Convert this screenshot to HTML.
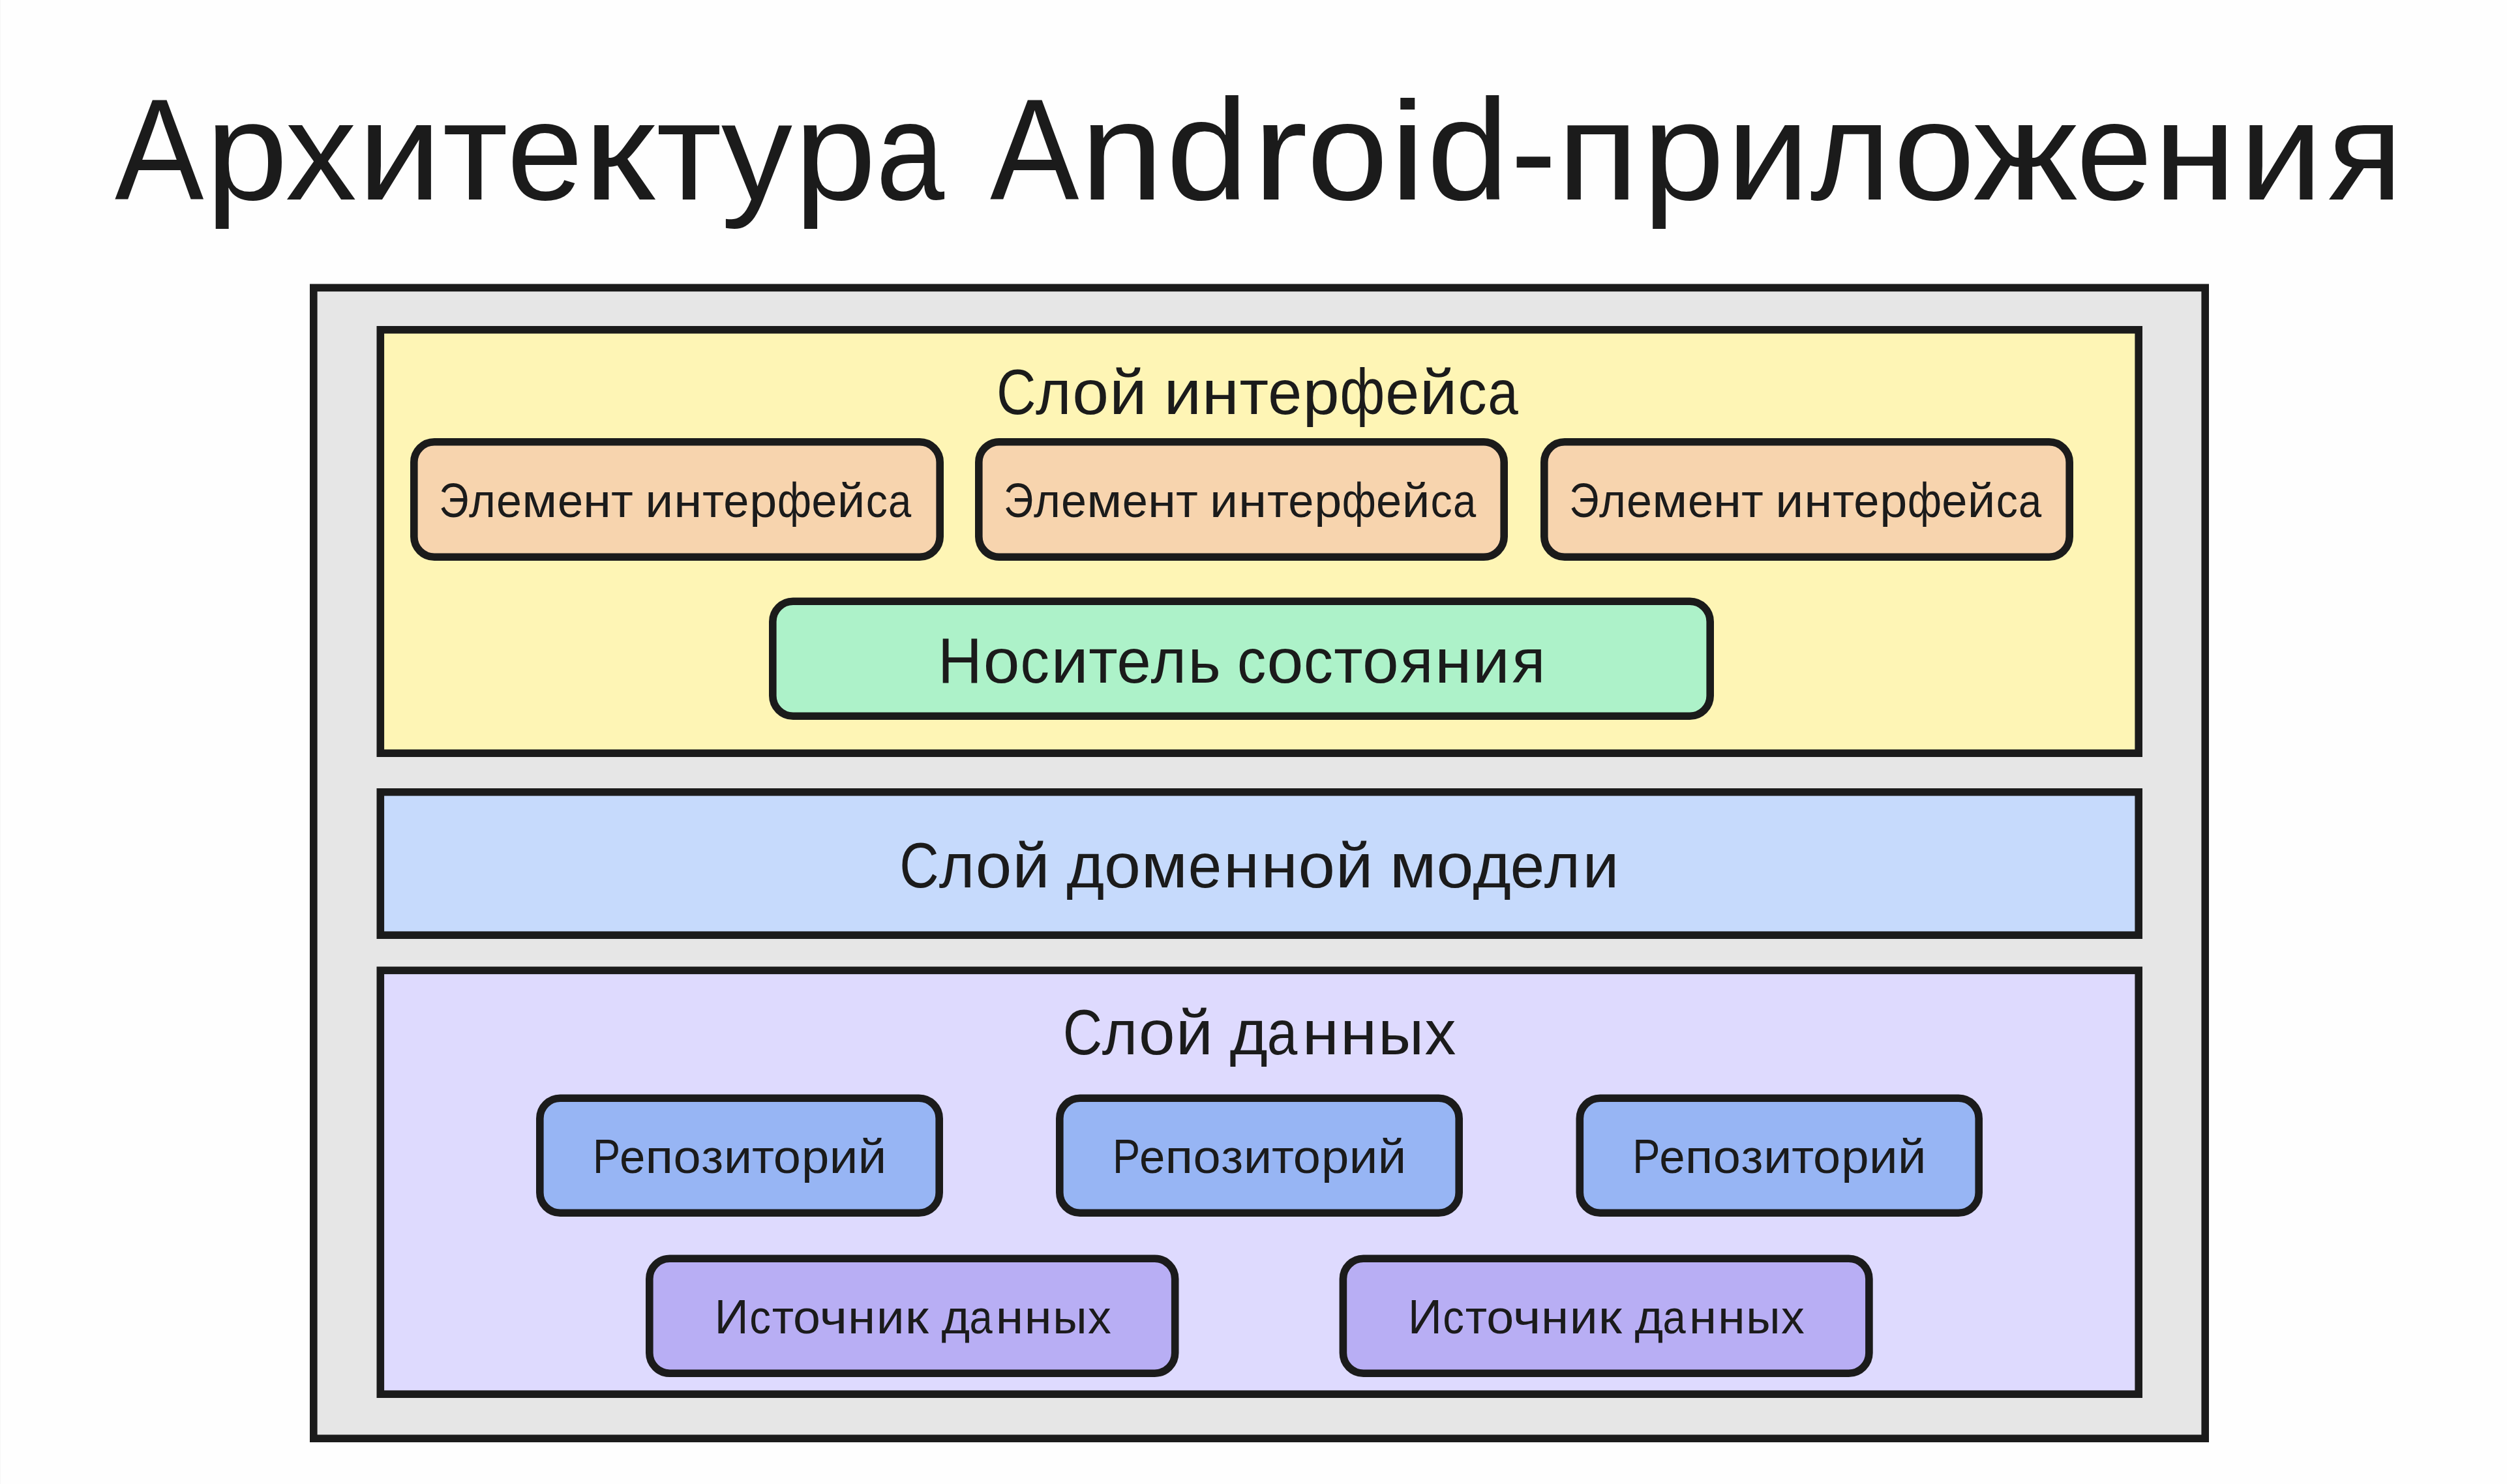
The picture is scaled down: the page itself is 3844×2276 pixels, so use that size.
<!DOCTYPE html>
<html><head><meta charset="utf-8"><style>
html,body{margin:0;padding:0;background:#fefefe;overflow:hidden;}
svg{display:block;}
text{font-family:"Liberation Sans",sans-serif;fill:#1b1b1b;}
</style></head><body>
<svg width="3844" height="2276" viewBox="0 0 3844 2276">
<rect x="0" y="0" width="3844" height="2276" fill="#fefefe"/>
<rect x="0" y="0" width="1" height="2276" fill="#f6f6f6"/>
<rect x="480.80" y="441.30" width="2900.40" height="1764.90" fill="#e6e6e6" stroke="#1b1b1b" stroke-width="11.6"/>
<rect x="583.30" y="505.80" width="2695.90" height="649.40" fill="#fef5b5" stroke="#1b1b1b" stroke-width="11.6"/>
<rect x="583.30" y="1214.80" width="2695.90" height="219.40" fill="#c6dafc" stroke="#1b1b1b" stroke-width="11.6"/>
<rect x="583.30" y="1488.30" width="2695.90" height="649.90" fill="#dedafe" stroke="#1b1b1b" stroke-width="11.6"/>
<rect x="634.80" y="677.80" width="806.40" height="176.40" rx="31.20" fill="#f7d4ae" stroke="#1b1b1b" stroke-width="11.6"/>
<rect x="1500.80" y="677.80" width="805.40" height="176.40" rx="31.20" fill="#f7d4ae" stroke="#1b1b1b" stroke-width="11.6"/>
<rect x="2367.80" y="677.80" width="805.40" height="176.40" rx="31.20" fill="#f7d4ae" stroke="#1b1b1b" stroke-width="11.6"/>
<rect x="1184.80" y="922.30" width="1437.40" height="175.90" rx="31.20" fill="#adf2c9" stroke="#1b1b1b" stroke-width="11.6"/>
<rect x="827.80" y="1684.20" width="612.40" height="176.00" rx="31.20" fill="#97b5f4" stroke="#1b1b1b" stroke-width="11.6"/>
<rect x="1624.80" y="1684.20" width="612.40" height="176.00" rx="31.20" fill="#97b5f4" stroke="#1b1b1b" stroke-width="11.6"/>
<rect x="2422.30" y="1684.20" width="611.90" height="176.00" rx="31.20" fill="#97b5f4" stroke="#1b1b1b" stroke-width="11.6"/>
<rect x="995.80" y="1930.20" width="805.90" height="176.00" rx="31.20" fill="#b8aef4" stroke="#1b1b1b" stroke-width="11.6"/>
<rect x="2059.40" y="1930.20" width="806.50" height="176.00" rx="31.20" fill="#b8aef4" stroke="#1b1b1b" stroke-width="11.6"/>
<text transform="translate(175.90,305.9) scale(0.9227,1.0000)" font-size="221.8">А</text>
<text transform="translate(315.60,305.9) scale(1.0216,0.9735)" font-size="221.8">р</text>
<text transform="translate(437.54,305.9) scale(0.9865,0.9735)" font-size="221.8">х</text>
<text transform="translate(548.57,305.9) scale(1.0361,0.9735)" font-size="221.8">и</text>
<text transform="translate(678.56,305.9) scale(0.9872,0.9735)" font-size="221.8">т</text>
<text transform="translate(777.21,305.9) scale(0.9435,0.9735)" font-size="221.8">е</text>
<text transform="translate(894.45,305.9) scale(1.1277,0.9735)" font-size="221.8">к</text>
<text transform="translate(1006.15,305.9) scale(0.9882,0.9735)" font-size="221.8">т</text>
<text transform="translate(1105.87,305.9) scale(0.9843,0.9735)" font-size="221.8">у</text>
<text transform="translate(1218.07,305.9) scale(1.0166,0.9735)" font-size="221.8">р</text>
<text transform="translate(1343.32,305.9) scale(0.8500,0.9735)" font-size="221.8">а</text>
<text transform="translate(1517.90,305.9) scale(0.9227,1.0000)" font-size="221.8">A</text>
<text transform="translate(1656.85,305.9) scale(1.0284,0.9735)" font-size="221.8">n</text>
<text transform="translate(1788.30,305.9) scale(1.0196,1.0000)" font-size="221.8">d</text>
<text transform="translate(1920.23,305.9) scale(1.1500,0.9735)" font-size="221.8">r</text>
<text transform="translate(2003.79,305.9) scale(1.0102,0.9735)" font-size="221.8">o</text>
<text transform="translate(2130.56,305.9) scale(1.1285,0.9735)" font-size="221.8">i</text>
<text transform="translate(2187.80,305.9) scale(1.0196,1.0000)" font-size="221.8">d</text>
<text transform="translate(2316.23,305.9) scale(0.9511,0.9735)" font-size="221.8">-</text>
<text transform="translate(2387.58,305.9) scale(1.0420,0.9735)" font-size="221.8">п</text>
<text transform="translate(2518.90,305.9) scale(1.0146,0.9735)" font-size="221.8">р</text>
<text transform="translate(2647.30,305.9) scale(1.0275,0.9735)" font-size="221.8">и</text>
<text transform="translate(2775.87,305.9) scale(0.9482,0.9735)" font-size="221.8">л</text>
<text transform="translate(2903.27,305.9) scale(1.0122,0.9735)" font-size="221.8">о</text>
<text transform="translate(3025.99,305.9) scale(1.0745,0.9735)" font-size="221.8">ж</text>
<text transform="translate(3183.82,305.9) scale(0.9426,0.9735)" font-size="221.8">е</text>
<text transform="translate(3302.21,305.9) scale(1.0335,0.9735)" font-size="221.8">н</text>
<text transform="translate(3433.40,305.9) scale(1.0339,0.9735)" font-size="221.8">и</text>
<text transform="translate(3569.25,305.9) scale(0.9515,0.9735)" font-size="221.8">я</text>
<text transform="translate(1527.90,634.8) scale(0.8500,1.0000)" font-size="98.4">С</text>
<text transform="translate(1587.90,634.8) scale(0.9488,0.9800)" font-size="98.4">л</text>
<text transform="translate(1644.28,634.8) scale(1.0202,0.9800)" font-size="98.4">о</text>
<text transform="translate(1700.93,634.8) scale(1.0503,0.9800)" font-size="98.4">й</text>
<text transform="translate(1784.43,634.8) scale(1.0503,0.9800)" font-size="98.4">и</text>
<text transform="translate(1842.82,634.8) scale(1.0517,0.9800)" font-size="98.4">н</text>
<text transform="translate(1900.53,634.8) scale(0.9903,0.9800)" font-size="98.4">т</text>
<text transform="translate(1944.33,634.8) scale(0.9486,0.9800)" font-size="98.4">е</text>
<text transform="translate(1997.59,634.8) scale(1.0260,0.9800)" font-size="98.4">р</text>
<text transform="translate(2054.46,634.8) scale(0.8500,1.0000)" font-size="98.4">ф</text>
<text transform="translate(2124.23,634.8) scale(0.9486,0.9800)" font-size="98.4">е</text>
<text transform="translate(2176.85,634.8) scale(1.0479,0.9800)" font-size="98.4">й</text>
<text transform="translate(2235.45,634.8) scale(0.8980,0.9800)" font-size="98.4">с</text>
<text transform="translate(2281.22,634.8) scale(0.8500,0.9800)" font-size="98.4">а</text>
<text transform="translate(1437.99,1047.1) scale(0.9551,1.0000)" font-size="98.4">Н</text>
<text transform="translate(1507.69,1047.1) scale(1.0181,0.9800)" font-size="98.4">о</text>
<text transform="translate(1564.43,1047.1) scale(0.9028,0.9800)" font-size="98.4">с</text>
<text transform="translate(1611.48,1047.1) scale(1.0431,0.9800)" font-size="98.4">и</text>
<text transform="translate(1669.24,1047.1) scale(0.9855,0.9800)" font-size="98.4">т</text>
<text transform="translate(1712.61,1047.1) scale(0.9551,0.9800)" font-size="98.4">е</text>
<text transform="translate(1764.50,1047.1) scale(0.9488,0.9800)" font-size="98.4">л</text>
<text transform="translate(1821.50,1047.1) scale(0.9825,0.9800)" font-size="98.4">ь</text>
<text transform="translate(1896.99,1047.1) scale(0.8992,0.9800)" font-size="98.4">с</text>
<text transform="translate(1942.48,1047.1) scale(1.0224,0.9800)" font-size="98.4">о</text>
<text transform="translate(1998.99,1047.1) scale(0.9122,0.9800)" font-size="98.4">с</text>
<text transform="translate(2045.35,1047.1) scale(0.9831,0.9800)" font-size="98.4">т</text>
<text transform="translate(2089.09,1047.1) scale(1.0181,0.9800)" font-size="98.4">о</text>
<text transform="translate(2146.82,1047.1) scale(0.9508,0.9800)" font-size="98.4">я</text>
<text transform="translate(2199.91,1047.1) scale(1.0394,0.9800)" font-size="98.4">н</text>
<text transform="translate(2257.80,1047.1) scale(1.0407,0.9800)" font-size="98.4">и</text>
<text transform="translate(2318.62,1047.1) scale(0.9552,0.9800)" font-size="98.4">я</text>
<text transform="translate(1379.37,1361) scale(0.8500,1.0000)" font-size="98.4">С</text>
<text transform="translate(1439.70,1361) scale(0.9488,0.9800)" font-size="98.4">л</text>
<text transform="translate(1495.81,1361) scale(1.0137,0.9800)" font-size="98.4">о</text>
<text transform="translate(1552.37,1361) scale(1.0455,0.9800)" font-size="98.4">й</text>
<text transform="translate(1635.33,1361) scale(1.0114,0.9800)" font-size="98.4">д</text>
<text transform="translate(1692.88,1361) scale(1.0224,0.9800)" font-size="98.4">о</text>
<text transform="translate(1749.72,1361) scale(1.0527,0.9800)" font-size="98.4">м</text>
<text transform="translate(1821.77,1361) scale(0.9399,0.9800)" font-size="98.4">е</text>
<text transform="translate(1876.36,1361) scale(1.0026,0.9800)" font-size="98.4">н</text>
<text transform="translate(1933.53,1361) scale(1.0370,0.9800)" font-size="98.4">н</text>
<text transform="translate(1990.54,1361) scale(1.0310,0.9800)" font-size="98.4">о</text>
<text transform="translate(2047.63,1361) scale(1.0503,0.9800)" font-size="98.4">й</text>
<text transform="translate(2130.75,1361) scale(1.0619,0.9800)" font-size="98.4">м</text>
<text transform="translate(2202.60,1361) scale(1.0396,0.9800)" font-size="98.4">о</text>
<text transform="translate(2258.22,1361) scale(1.0224,0.9800)" font-size="98.4">д</text>
<text transform="translate(2315.70,1361) scale(0.9573,0.9800)" font-size="98.4">е</text>
<text transform="translate(2367.69,1361) scale(0.9588,0.9800)" font-size="98.4">л</text>
<text transform="translate(2426.45,1361) scale(1.0189,0.9800)" font-size="98.4">и</text>
<text transform="translate(1629.77,1617.4) scale(0.8500,1.0000)" font-size="98.4">С</text>
<text transform="translate(1689.70,1617.4) scale(0.9488,0.9800)" font-size="98.4">л</text>
<text transform="translate(1746.00,1617.4) scale(1.0159,0.9800)" font-size="98.4">о</text>
<text transform="translate(1802.78,1617.4) scale(1.0431,0.9800)" font-size="98.4">й</text>
<text transform="translate(1885.42,1617.4) scale(1.0151,0.9800)" font-size="98.4">д</text>
<text transform="translate(1942.72,1617.4) scale(0.8500,0.9800)" font-size="98.4">а</text>
<text transform="translate(1996.64,1617.4) scale(1.0345,0.9800)" font-size="98.4">н</text>
<text transform="translate(2055.04,1617.4) scale(1.0345,0.9800)" font-size="98.4">н</text>
<text transform="translate(2113.36,1617.4) scale(0.9881,0.9800)" font-size="98.4">ы</text>
<text transform="translate(2184.62,1617.4) scale(0.9737,0.9800)" font-size="98.4">х</text>
<text transform="translate(673.16,793.2) scale(0.8500,1.0000)" font-size="74.4">Э</text>
<text transform="translate(719.02,793.2) scale(0.9457,0.9770)" font-size="74.4">л</text>
<text transform="translate(761.02,793.2) scale(0.9424,0.9770)" font-size="74.4">е</text>
<text transform="translate(800.35,793.2) scale(1.0570,0.9770)" font-size="74.4">м</text>
<text transform="translate(854.91,793.2) scale(0.9453,0.9770)" font-size="74.4">е</text>
<text transform="translate(894.10,793.2) scale(1.0465,0.9770)" font-size="74.4">н</text>
<text transform="translate(937.04,793.2) scale(0.9926,0.9770)" font-size="74.4">т</text>
<text transform="translate(989.21,793.2) scale(1.0355,0.9770)" font-size="74.4">и</text>
<text transform="translate(1033.18,793.2) scale(1.0497,0.9770)" font-size="74.4">н</text>
<text transform="translate(1077.06,793.2) scale(0.9736,0.9770)" font-size="74.4">т</text>
<text transform="translate(1109.31,793.2) scale(0.9453,0.9770)" font-size="74.4">е</text>
<text transform="translate(1149.33,793.2) scale(1.0162,0.9770)" font-size="74.4">р</text>
<text transform="translate(1191.90,793.2) scale(0.8500,1.0000)" font-size="74.4">ф</text>
<text transform="translate(1244.21,793.2) scale(0.9453,0.9770)" font-size="74.4">е</text>
<text transform="translate(1283.80,793.2) scale(1.0275,0.9770)" font-size="74.4">й</text>
<text transform="translate(1327.68,793.2) scale(0.8916,0.9770)" font-size="74.4">с</text>
<text transform="translate(1362.02,793.2) scale(0.8500,0.9770)" font-size="74.4">а</text>
<text transform="translate(1539.06,793.2) scale(0.8500,1.0000)" font-size="74.4">Э</text>
<text transform="translate(1584.92,793.2) scale(0.9457,0.9770)" font-size="74.4">л</text>
<text transform="translate(1626.92,793.2) scale(0.9424,0.9770)" font-size="74.4">е</text>
<text transform="translate(1666.25,793.2) scale(1.0570,0.9770)" font-size="74.4">м</text>
<text transform="translate(1720.81,793.2) scale(0.9453,0.9770)" font-size="74.4">е</text>
<text transform="translate(1760.00,793.2) scale(1.0465,0.9770)" font-size="74.4">н</text>
<text transform="translate(1802.94,793.2) scale(0.9926,0.9770)" font-size="74.4">т</text>
<text transform="translate(1855.11,793.2) scale(1.0355,0.9770)" font-size="74.4">и</text>
<text transform="translate(1899.08,793.2) scale(1.0497,0.9770)" font-size="74.4">н</text>
<text transform="translate(1942.96,793.2) scale(0.9736,0.9770)" font-size="74.4">т</text>
<text transform="translate(1975.21,793.2) scale(0.9453,0.9770)" font-size="74.4">е</text>
<text transform="translate(2015.23,793.2) scale(1.0162,0.9770)" font-size="74.4">р</text>
<text transform="translate(2057.80,793.2) scale(0.8500,1.0000)" font-size="74.4">ф</text>
<text transform="translate(2110.11,793.2) scale(0.9453,0.9770)" font-size="74.4">е</text>
<text transform="translate(2149.70,793.2) scale(1.0275,0.9770)" font-size="74.4">й</text>
<text transform="translate(2193.58,793.2) scale(0.8916,0.9770)" font-size="74.4">с</text>
<text transform="translate(2227.92,793.2) scale(0.8500,0.9770)" font-size="74.4">а</text>
<text transform="translate(2406.16,793.2) scale(0.8500,1.0000)" font-size="74.4">Э</text>
<text transform="translate(2452.02,793.2) scale(0.9457,0.9770)" font-size="74.4">л</text>
<text transform="translate(2494.02,793.2) scale(0.9424,0.9770)" font-size="74.4">е</text>
<text transform="translate(2533.35,793.2) scale(1.0570,0.9770)" font-size="74.4">м</text>
<text transform="translate(2587.91,793.2) scale(0.9453,0.9770)" font-size="74.4">е</text>
<text transform="translate(2627.10,793.2) scale(1.0465,0.9770)" font-size="74.4">н</text>
<text transform="translate(2670.04,793.2) scale(0.9926,0.9770)" font-size="74.4">т</text>
<text transform="translate(2722.21,793.2) scale(1.0355,0.9770)" font-size="74.4">и</text>
<text transform="translate(2766.18,793.2) scale(1.0497,0.9770)" font-size="74.4">н</text>
<text transform="translate(2810.06,793.2) scale(0.9736,0.9770)" font-size="74.4">т</text>
<text transform="translate(2842.31,793.2) scale(0.9453,0.9770)" font-size="74.4">е</text>
<text transform="translate(2882.33,793.2) scale(1.0162,0.9770)" font-size="74.4">р</text>
<text transform="translate(2924.90,793.2) scale(0.8500,1.0000)" font-size="74.4">ф</text>
<text transform="translate(2977.21,793.2) scale(0.9453,0.9770)" font-size="74.4">е</text>
<text transform="translate(3016.80,793.2) scale(1.0275,0.9770)" font-size="74.4">й</text>
<text transform="translate(3060.68,793.2) scale(0.8916,0.9770)" font-size="74.4">с</text>
<text transform="translate(3095.02,793.2) scale(0.8500,0.9770)" font-size="74.4">а</text>
<text transform="translate(909.03,1799.4) scale(0.8500,1.0000)" font-size="74.4">Р</text>
<text transform="translate(950.09,1799.4) scale(0.9510,0.9770)" font-size="74.4">е</text>
<text transform="translate(989.43,1799.4) scale(1.0610,0.9770)" font-size="74.4">п</text>
<text transform="translate(1032.42,1799.4) scale(1.0191,0.9770)" font-size="74.4">о</text>
<text transform="translate(1075.13,1799.4) scale(0.9954,0.9770)" font-size="74.4">з</text>
<text transform="translate(1109.70,1799.4) scale(1.0467,0.9770)" font-size="74.4">и</text>
<text transform="translate(1152.93,1799.4) scale(0.9990,0.9770)" font-size="74.4">т</text>
<text transform="translate(1185.82,1799.4) scale(1.0191,0.9770)" font-size="74.4">о</text>
<text transform="translate(1229.08,1799.4) scale(1.0252,0.9770)" font-size="74.4">р</text>
<text transform="translate(1271.43,1799.4) scale(1.0595,0.9770)" font-size="74.4">и</text>
<text transform="translate(1315.55,1799.4) scale(1.0563,0.9770)" font-size="74.4">й</text>
<text transform="translate(1706.03,1799.4) scale(0.8500,1.0000)" font-size="74.4">Р</text>
<text transform="translate(1747.09,1799.4) scale(0.9510,0.9770)" font-size="74.4">е</text>
<text transform="translate(1786.43,1799.4) scale(1.0610,0.9770)" font-size="74.4">п</text>
<text transform="translate(1829.42,1799.4) scale(1.0191,0.9770)" font-size="74.4">о</text>
<text transform="translate(1872.13,1799.4) scale(0.9954,0.9770)" font-size="74.4">з</text>
<text transform="translate(1906.70,1799.4) scale(1.0467,0.9770)" font-size="74.4">и</text>
<text transform="translate(1949.93,1799.4) scale(0.9990,0.9770)" font-size="74.4">т</text>
<text transform="translate(1982.82,1799.4) scale(1.0191,0.9770)" font-size="74.4">о</text>
<text transform="translate(2026.08,1799.4) scale(1.0252,0.9770)" font-size="74.4">р</text>
<text transform="translate(2068.43,1799.4) scale(1.0595,0.9770)" font-size="74.4">и</text>
<text transform="translate(2112.55,1799.4) scale(1.0563,0.9770)" font-size="74.4">й</text>
<text transform="translate(2503.28,1799.4) scale(0.8500,1.0000)" font-size="74.4">Р</text>
<text transform="translate(2544.34,1799.4) scale(0.9510,0.9770)" font-size="74.4">е</text>
<text transform="translate(2583.68,1799.4) scale(1.0610,0.9770)" font-size="74.4">п</text>
<text transform="translate(2626.67,1799.4) scale(1.0191,0.9770)" font-size="74.4">о</text>
<text transform="translate(2669.38,1799.4) scale(0.9954,0.9770)" font-size="74.4">з</text>
<text transform="translate(2703.95,1799.4) scale(1.0467,0.9770)" font-size="74.4">и</text>
<text transform="translate(2747.18,1799.4) scale(0.9990,0.9770)" font-size="74.4">т</text>
<text transform="translate(2780.07,1799.4) scale(1.0191,0.9770)" font-size="74.4">о</text>
<text transform="translate(2823.33,1799.4) scale(1.0252,0.9770)" font-size="74.4">р</text>
<text transform="translate(2865.68,1799.4) scale(1.0595,0.9770)" font-size="74.4">и</text>
<text transform="translate(2909.80,1799.4) scale(1.0563,0.9770)" font-size="74.4">й</text>
<text transform="translate(1095.53,2045.2) scale(0.9789,1.0000)" font-size="74.4">И</text>
<text transform="translate(1149.22,2045.2) scale(0.8791,0.9770)" font-size="74.4">с</text>
<text transform="translate(1183.65,2045.2) scale(0.9799,0.9770)" font-size="74.4">т</text>
<text transform="translate(1216.03,2045.2) scale(1.0134,0.9770)" font-size="74.4">о</text>
<text transform="translate(1256.60,2045.2) scale(1.1052,0.9770)" font-size="74.4">ч</text>
<text transform="translate(1299.90,2045.2) scale(1.0270,0.9770)" font-size="74.4">н</text>
<text transform="translate(1343.67,2045.2) scale(1.0339,0.9770)" font-size="74.4">и</text>
<text transform="translate(1387.49,2045.2) scale(1.1183,0.9770)" font-size="74.4">к</text>
<text transform="translate(1443.47,2045.2) scale(1.0069,0.9770)" font-size="74.4">д</text>
<text transform="translate(1486.52,2045.2) scale(0.8500,0.9770)" font-size="74.4">а</text>
<text transform="translate(1526.77,2045.2) scale(1.0335,0.9770)" font-size="74.4">н</text>
<text transform="translate(1570.85,2045.2) scale(1.0172,0.9770)" font-size="74.4">н</text>
<text transform="translate(1614.24,2045.2) scale(0.9801,0.9770)" font-size="74.4">ы</text>
<text transform="translate(1667.90,2045.2) scale(0.9616,0.9770)" font-size="74.4">х</text>
<text transform="translate(2158.63,2045.2) scale(0.9789,1.0000)" font-size="74.4">И</text>
<text transform="translate(2212.32,2045.2) scale(0.8791,0.9770)" font-size="74.4">с</text>
<text transform="translate(2246.75,2045.2) scale(0.9799,0.9770)" font-size="74.4">т</text>
<text transform="translate(2279.13,2045.2) scale(1.0134,0.9770)" font-size="74.4">о</text>
<text transform="translate(2319.70,2045.2) scale(1.1052,0.9770)" font-size="74.4">ч</text>
<text transform="translate(2363.00,2045.2) scale(1.0270,0.9770)" font-size="74.4">н</text>
<text transform="translate(2406.77,2045.2) scale(1.0339,0.9770)" font-size="74.4">и</text>
<text transform="translate(2450.59,2045.2) scale(1.1183,0.9770)" font-size="74.4">к</text>
<text transform="translate(2506.57,2045.2) scale(1.0069,0.9770)" font-size="74.4">д</text>
<text transform="translate(2549.62,2045.2) scale(0.8500,0.9770)" font-size="74.4">а</text>
<text transform="translate(2589.87,2045.2) scale(1.0335,0.9770)" font-size="74.4">н</text>
<text transform="translate(2633.95,2045.2) scale(1.0172,0.9770)" font-size="74.4">н</text>
<text transform="translate(2677.34,2045.2) scale(0.9801,0.9770)" font-size="74.4">ы</text>
<text transform="translate(2731.00,2045.2) scale(0.9616,0.9770)" font-size="74.4">х</text>
</svg>
</body></html>
